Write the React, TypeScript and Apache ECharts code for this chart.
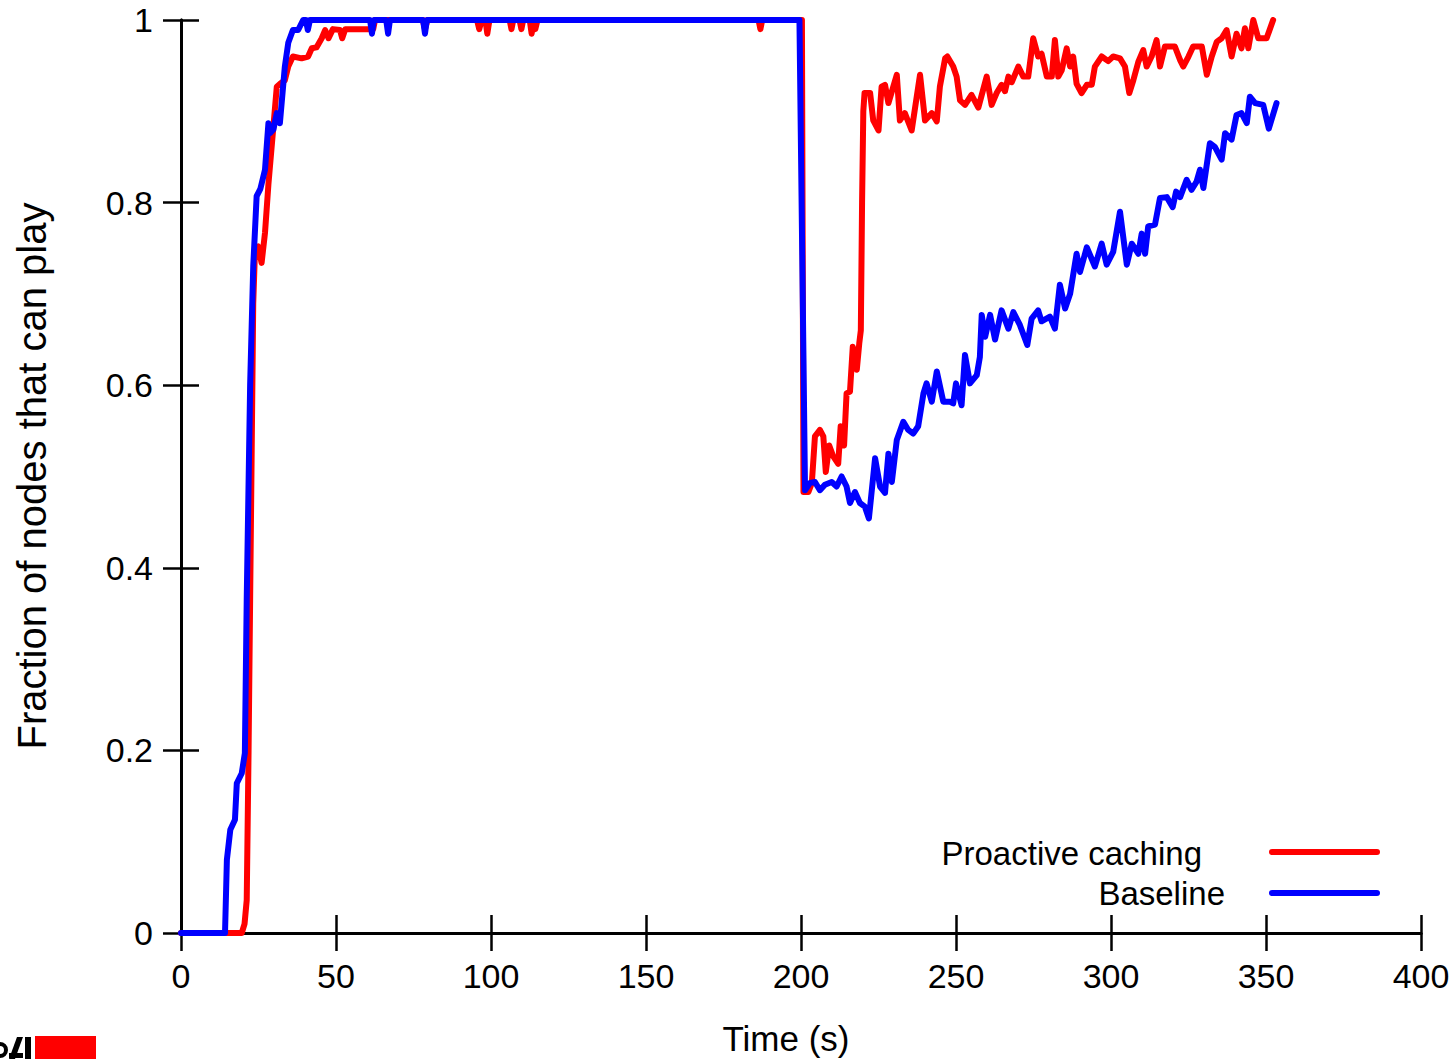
import React, { useEffect, useRef } from "react";
import * as echarts from "echarts";

// Proactive caching: [time (s), fraction]
const proactiveData: [number, number][] = [
  [0, 0], [19.6, 0], [20.5, 0.01], [21.2, 0.036], [21.8, 0.2], [22.3, 0.365], [23.3, 0.69], [23.9, 0.75],
  [24.9, 0.752], [26, 0.734], [27.1, 0.767], [28.2, 0.82], [29.8, 0.883], [30.9, 0.927], [31.9, 0.93],
  [33.5, 0.934], [34.6, 0.949], [36.1, 0.96], [38.9, 0.958], [41, 0.96], [42.2, 0.969], [43.7, 0.97],
  [45.4, 0.98], [46.5, 0.989], [47.6, 0.98], [49, 0.99], [51.3, 0.989], [52, 0.98], [53, 0.99],
  [62, 0.99], [62.6, 1], [78, 1], [78.7, 0.99], [79.5, 1], [95.5, 1], [96.2, 0.99], [97, 1], [98.2, 1],
  [98.8, 0.985], [99.5, 1], [106, 1], [106.6, 0.99], [107.2, 1], [109.2, 1], [109.8, 0.99], [110.4, 1],
  [112.5, 1], [113.1, 0.985], [113.8, 1], [114.3, 0.99], [115, 1], [186.3, 1], [186.9, 0.99], [187.5, 1],
  [200.3, 1], [200.8, 0.483], [202.4, 0.483], [203.5, 0.493], [204.5, 0.544], [206.1, 0.551], [207.2, 0.544],
  [208, 0.505], [209.1, 0.534], [210.4, 0.522], [212, 0.514], [212.8, 0.555], [213.9, 0.534], [214.7, 0.591],
  [215.8, 0.593], [216.7, 0.642], [218, 0.617], [218.8, 0.646], [219.3, 0.66], [219.7, 0.8], [220.1, 0.9],
  [220.5, 0.92], [222.3, 0.92], [223.3, 0.89], [225, 0.879], [226, 0.927], [227.1, 0.929], [228.2, 0.909],
  [230.9, 0.94], [231.9, 0.89], [233.5, 0.898], [235.7, 0.879], [238.4, 0.94], [240, 0.89], [242.2, 0.898],
  [243.8, 0.889], [244.8, 0.927], [246.5, 0.958], [247.2, 0.96], [249.1, 0.949], [250.2, 0.938],
  [251.3, 0.912], [252.9, 0.907], [255, 0.918], [257.2, 0.904], [259.9, 0.938], [261.5, 0.907],
  [263.1, 0.92], [264.7, 0.929], [265.8, 0.922], [266.9, 0.938], [268, 0.932], [270.1, 0.949],
  [271.7, 0.938], [273.3, 0.938], [274.9, 0.98], [276.5, 0.96], [277.6, 0.963], [279.3, 0.938],
  [280.9, 0.938], [281.9, 0.978], [283, 0.938], [284.1, 0.945], [285.7, 0.969], [286.8, 0.949],
  [287.8, 0.96], [288.9, 0.93], [290.5, 0.92], [292.2, 0.929], [293.8, 0.929], [294.8, 0.949], [297, 0.96],
  [299.1, 0.955], [300.7, 0.96], [302.9, 0.958], [304.5, 0.949], [305.9, 0.92], [307.2, 0.934],
  [308.8, 0.954], [310.4, 0.967], [311.5, 0.949], [313.1, 0.96], [314.7, 0.978], [315.8, 0.949],
  [317.4, 0.971], [320.6, 0.971], [322.3, 0.956], [323.3, 0.949], [325, 0.96], [326.5, 0.971],
  [329.3, 0.971], [330.9, 0.94], [332.5, 0.96], [334.1, 0.976], [335.7, 0.98], [337.3, 0.989],
  [338.9, 0.96], [340.5, 0.985], [342.1, 0.969], [343.2, 0.991], [344.3, 0.969], [345.9, 1],
  [347.5, 0.98], [350.2, 0.98], [352.3, 1],
];

// Baseline: [time (s), fraction]
const baselineData: [number, number][] = [
  [0, 0], [14.2, 0], [14.8, 0.08], [15.9, 0.113], [17.4, 0.124], [18, 0.164], [19.6, 0.175], [20.6, 0.197],
  [21.2, 0.365], [22.3, 0.6], [23.3, 0.73], [24.4, 0.807], [25.6, 0.815], [27.1, 0.836], [28.2, 0.887],
  [28.7, 0.876], [29.8, 0.88], [30.9, 0.898], [31.9, 0.887], [33.5, 0.949], [34.6, 0.975], [36.1, 0.989],
  [37.8, 0.989], [39.4, 1], [40.3, 1], [40.9, 0.989], [41.6, 1], [61, 1], [61.6, 0.985], [62.2, 1],
  [66.2, 1], [66.8, 0.985], [67.4, 1], [78.1, 1], [78.7, 0.985], [79.3, 1], [199.5, 1], [201.3, 0.485],
  [202.9, 0.493], [204.5, 0.494], [206.1, 0.485], [207.7, 0.491], [209.9, 0.494], [211.5, 0.489],
  [213.1, 0.5], [214.7, 0.489], [215.8, 0.471], [217.4, 0.483], [219, 0.471], [220.6, 0.467],
  [221.9, 0.454], [223.9, 0.52], [225.5, 0.489], [227.1, 0.482], [228.2, 0.525], [229.3, 0.494],
  [230.9, 0.54], [233, 0.56], [234.6, 0.551], [236.2, 0.547], [237.8, 0.555], [239.5, 0.591],
  [240.5, 0.602], [242.2, 0.582], [243.8, 0.615], [245.9, 0.582], [248, 0.582], [249.1, 0.58],
  [250, 0.602], [251.8, 0.578], [252.9, 0.633], [254.5, 0.602], [256.7, 0.611], [257.7, 0.631],
  [258.3, 0.677], [259.4, 0.653], [261, 0.677], [262.6, 0.65], [264.7, 0.682], [266.9, 0.662],
  [268.5, 0.68], [270.6, 0.666], [273, 0.644], [274.4, 0.673], [276.5, 0.682], [277.6, 0.67],
  [280.3, 0.675], [281.9, 0.662], [283.5, 0.71], [285.2, 0.684], [286.8, 0.7], [288.9, 0.744],
  [290, 0.724], [292.2, 0.751], [294.8, 0.73], [297, 0.755], [298.6, 0.732], [300.7, 0.746],
  [302.9, 0.79], [305.1, 0.732], [306.7, 0.755], [308.8, 0.744], [309.9, 0.766], [311, 0.744],
  [312, 0.774], [314.2, 0.776], [315.8, 0.805], [318, 0.806], [319.9, 0.795], [321, 0.812],
  [322.3, 0.806], [324.4, 0.825], [326, 0.814], [327.6, 0.823], [328.7, 0.836], [329.8, 0.816],
  [331.9, 0.865], [333.5, 0.861], [335.7, 0.847], [336.8, 0.876], [338.9, 0.869], [340.5, 0.896],
  [342.1, 0.898], [343.8, 0.887], [344.8, 0.916], [346.5, 0.909], [349.1, 0.907], [350.9, 0.881],
  [353.4, 0.909],
];

const seriesNames = ["Proactive caching", "Baseline"];
const seriesColors = ["#ff0000", "#0000ff"];
const xTitle = "Time (s)";
const yTitle = "Fraction of nodes that can play";

const FONT = "Liberation Sans, Arial, sans-serif";

export default function App() {
  const ref = useRef<HTMLDivElement>(null);
  useEffect(() => {
    if (!ref.current) return;
    const chart = echarts.init(ref.current, null, { renderer: "svg" });
    const tickStyle = { show: true, inside: true, length: 18, lineStyle: { color: "#000", width: 2.5 } };
    const lineStyle = { show: true, lineStyle: { color: "#000", width: 3 } };
    const labelStyle = { color: "#000", fontSize: 34, fontFamily: FONT };
    chart.setOption({
      animation: false,
      backgroundColor: "#fff",
      grid: { left: 181, right: 34, top: 20, bottom: 126, containLabel: false },
      xAxis: [
        {
          type: "value", min: 0, max: 400, interval: 50, position: "bottom",
          axisLine: lineStyle, axisTick: tickStyle, splitLine: { show: false },
          axisLabel: { ...labelStyle, margin: 26 },
        },
        {
          type: "value", min: 0, max: 400, interval: 50, position: "top",
          axisLine: lineStyle, axisTick: tickStyle, splitLine: { show: false },
          axisLabel: { show: false },
        },
      ],
      yAxis: [
        {
          type: "value", min: 0, max: 1, interval: 0.2, position: "left",
          axisLine: lineStyle, axisTick: tickStyle, splitLine: { show: false },
          axisLabel: {
            ...labelStyle, margin: 28,
            formatter: (v: number) => (v === 0 ? "0" : v === 1 ? "1" : v.toFixed(1)),
          },
        },
        {
          type: "value", min: 0, max: 1, interval: 0.2, position: "right",
          axisLine: lineStyle, axisTick: tickStyle, splitLine: { show: false },
          axisLabel: { show: false },
        },
      ],
      series: [
        {
          name: seriesNames[0], type: "line", data: proactiveData, showSymbol: false,
          xAxisIndex: 0, yAxisIndex: 0,
          lineStyle: { color: seriesColors[0], width: 6, join: "round", cap: "round" },
        },
        {
          name: seriesNames[1], type: "line", data: baselineData, showSymbol: false,
          xAxisIndex: 0, yAxisIndex: 0,
          lineStyle: { color: seriesColors[1], width: 6, join: "round", cap: "round" },
        },
      ],
      graphic: [
        {
          type: "text", x: 32, y: 476, rotation: Math.PI / 2,
          style: { text: yTitle, font: `40px ${FONT}`, fill: "#000", align: "center", verticalAlign: "middle" },
        },
        {
          type: "text", x: 786, y: 1038,
          style: { text: xTitle, font: `35px ${FONT}`, fill: "#000", align: "center", verticalAlign: "middle" },
        },
        {
          type: "text", x: 1202, y: 853,
          style: { text: seriesNames[0], font: `33px ${FONT}`, fill: "#000", align: "right", verticalAlign: "middle" },
        },
        {
          type: "text", x: 1225, y: 893,
          style: { text: seriesNames[1], font: `33px ${FONT}`, fill: "#000", align: "right", verticalAlign: "middle" },
        },
        {
          type: "line", shape: { x1: 1272, y1: 852, x2: 1377, y2: 852 },
          style: { stroke: seriesColors[0], lineWidth: 6, lineCap: "round" },
        },
        {
          type: "line", shape: { x1: 1272, y1: 893, x2: 1377, y2: 893 },
          style: { stroke: seriesColors[1], lineWidth: 6, lineCap: "round" },
        },
        // cropped logo fragment at the bottom-left corner
        { type: "rect", shape: { x: 35, y: 1036, width: 61, height: 23 }, style: { fill: "#ff0000" } },
        { type: "rect", shape: { x: 25, y: 1037, width: 6, height: 22 }, style: { fill: "#000" } },
        { type: "polygon", shape: { points: [[9, 1059], [15, 1059], [23, 1037], [17, 1037]] }, style: { fill: "#000" } },
        { type: "rect", shape: { x: 9, y: 1053, width: 14, height: 5 }, style: { fill: "#000" } },
        { type: "arc", shape: { cx: 0, cy: 1050, r: 6, startAngle: -Math.PI / 2, endAngle: Math.PI / 2 }, style: { stroke: "#000", lineWidth: 4, fill: "none" } },
      ],
    });
    return () => chart.dispose();
  }, []);
  return <div ref={ref} style={{ width: 1455, height: 1059, position: "absolute", left: 0, top: 0 }} />;
}
